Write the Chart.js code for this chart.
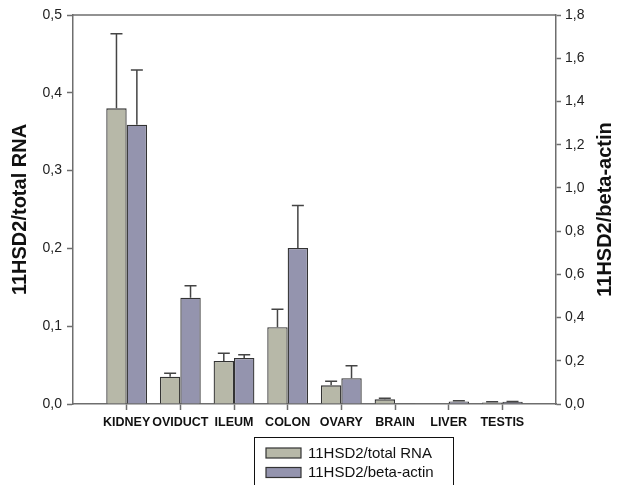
<!DOCTYPE html>
<html>
<head>
<meta charset="utf-8">
<script src="https://cdn.jsdelivr.net/npm/chart.js@4.4.1/dist/chart.umd.min.js"></script>
<style>
  html, body { margin: 0; padding: 0; background: #fff; }
  #wrap { width: 621px; height: 485px; position: relative; }
</style>
</head>
<body>
<div id="wrap"><canvas id="c" width="621" height="485"></canvas></div>
<script>
const categories = ['KIDNEY', 'OVIDUCT', 'ILEUM', 'COLON', 'OVARY', 'BRAIN', 'LIVER', 'TESTIS'];
const totalRNA = [0.380, 0.0351, 0.0553, 0.0986, 0.024, 0.006, 0.0005, 0.002];
const totalRNAErr = [0.096, 0.0043, 0.0098, 0.0231, 0.0052, 0.0013, 0, 0.001];
const betaActin = [1.292, 0.492, 0.213, 0.722, 0.119, 0.003, 0.012, 0.010];
const betaActinErr = [0.254, 0.055, 0.015, 0.196, 0.058, 0, 0.003, 0.002];
const leftTicks = [0, 0.1, 0.2, 0.3, 0.4, 0.5];
const rightTicks = [0, 0.2, 0.4, 0.6, 0.8, 1.0, 1.2, 1.4, 1.6, 1.8];
const seriesNames = ['11HSD2/total RNA', '11HSD2/beta-actin'];
const leftTitle = '11HSD2/total RNA';
const rightTitle = '11HSD2/beta-actin';

const colors = ['rgb(183,184,168)', 'rgb(148,148,174)'];
const axisColor = '#6e6e6e';
const FONT = '"Liberation Sans", Arial, sans-serif';

const labels = [''].concat(categories).concat(['']);
const pad = arr => [null].concat(arr).concat([null]);
const errs = [pad(totalRNAErr), pad(betaActinErr)];

const fmt = v => Number(v).toFixed(1).replace('.', ',');

const extras = {
  id: 'extras',
  afterDatasetsDraw(chart) {
    const ctx = chart.ctx;
    ctx.save();
    ctx.strokeStyle = '#444';
    ctx.lineWidth = 1.5;
    chart.data.datasets.forEach((ds, di) => {
      const meta = chart.getDatasetMeta(di);
      const scale = chart.scales[ds.yAxisID];
      meta.data.forEach((bar, i) => {
        const v = ds.data[i];
        const e = errs[di][i];
        if (v == null || !e) return;
        const yTop = scale.getPixelForValue(v + e);
        ctx.beginPath();
        ctx.moveTo(bar.x, bar.y);
        ctx.lineTo(bar.x, yTop);
        ctx.moveTo(bar.x - 6, yTop);
        ctx.lineTo(bar.x + 6, yTop);
        ctx.stroke();
      });
    });
    ctx.restore();
  },
  afterDraw(chart) {
    const ctx = chart.ctx;
    const a = chart.chartArea;
    ctx.save();
    ctx.strokeStyle = axisColor;
    ctx.lineWidth = 1.5;
    ctx.beginPath();
    ctx.moveTo(a.left, a.top);
    ctx.lineTo(a.right, a.top);
    ctx.stroke();
    ctx.fillStyle = '#111';
    ctx.font = 'bold 20px ' + FONT;
    ctx.textAlign = 'center';
    ctx.textBaseline = 'middle';
    ctx.translate(605, (a.top + a.bottom) / 2);
    ctx.rotate(-Math.PI / 2);
    ctx.fillText(rightTitle, 0, 0);
    ctx.restore();

    ctx.save();
    const bx = 254.5, by = 437.5, bw = 199, bh = 60;
    ctx.strokeStyle = '#111';
    ctx.lineWidth = 1;
    ctx.strokeRect(bx, by, bw, bh);
    ctx.font = '15px ' + FONT;
    ctx.textAlign = 'left';
    ctx.textBaseline = 'middle';
    seriesNames.forEach((name, i) => {
      const cy = 453 + i * 19.5;
      ctx.fillStyle = colors[i];
      ctx.fillRect(266, cy - 5, 35, 10);
      ctx.strokeStyle = '#333';
      ctx.lineWidth = 1.2;
      ctx.strokeRect(266, cy - 5, 35, 10);
      ctx.fillStyle = '#111';
      ctx.fillText(name, 308, cy + 0.5);
    });
    ctx.restore();
  }
};

new Chart(document.getElementById('c'), {
  type: 'bar',
  data: {
    labels: labels,
    datasets: [
      {
        label: seriesNames[0],
        data: pad(totalRNA),
        yAxisID: 'y',
        backgroundColor: colors[0],
        borderColor: '#333',
        borderWidth: 1.3,
        categoryPercentage: 0.76,
        barPercentage: 1.0
      },
      {
        label: seriesNames[1],
        data: pad(betaActin),
        yAxisID: 'y1',
        backgroundColor: colors[1],
        borderColor: '#333',
        borderWidth: 1.3,
        categoryPercentage: 0.76,
        barPercentage: 1.0
      }
    ]
  },
  options: {
    responsive: false,
    animation: false,
    devicePixelRatio: 1,
    layout: { padding: { top: 15, left: 0, right: 0, bottom: 0 } },
    plugins: { legend: { display: false }, tooltip: { enabled: false } },
    scales: {
      x: {
        offset: false,
        afterFit: s => { s.height = 81; },
        border: { display: true, color: axisColor, width: 1.5 },
        grid: {
          offset: false,
          drawOnChartArea: false,
          drawTicks: true,
          tickLength: 6,
          tickColor: ctx => (ctx.tick && ctx.tick.label === '') ? 'rgba(0,0,0,0)' : axisColor,
          tickWidth: 1.5
        },
        ticks: {
          autoSkip: false,
          maxRotation: 0,
          minRotation: 0,
          padding: 5,
          color: '#111',
          font: { family: FONT, size: 12.5, weight: 'bold' }
        }
      },
      y: {
        position: 'left',
        min: 0,
        max: 0.5,
        afterFit: s => { s.width = 73; },
        afterBuildTicks: s => { s.ticks = leftTicks.map(v => ({ value: v })); },
        border: { display: true, color: axisColor, width: 1.5 },
        grid: { drawOnChartArea: false, tickLength: 6, tickColor: axisColor, tickWidth: 1.5 },
        ticks: {
          padding: 5,
          color: '#222',
          font: { family: FONT, size: 14 },
          callback: v => fmt(v)
        },
        title: {
          display: true,
          text: leftTitle,
          color: '#111',
          padding: { top: 8, bottom: 0 },
          font: { family: FONT, size: 20, weight: 'bold' }
        }
      },
      y1: {
        position: 'right',
        min: 0,
        max: 1.8,
        afterFit: s => { s.width = 65; },
        afterBuildTicks: s => { s.ticks = rightTicks.map(v => ({ value: v })); },
        border: { display: true, color: axisColor, width: 1.5 },
        grid: { drawOnChartArea: false, tickLength: 5, tickColor: axisColor, tickWidth: 1.5 },
        ticks: {
          padding: 4,
          color: '#222',
          font: { family: FONT, size: 14 },
          callback: v => fmt(v)
        }
      }
    }
  },
  plugins: [extras]
});
</script>
</body>
</html>
